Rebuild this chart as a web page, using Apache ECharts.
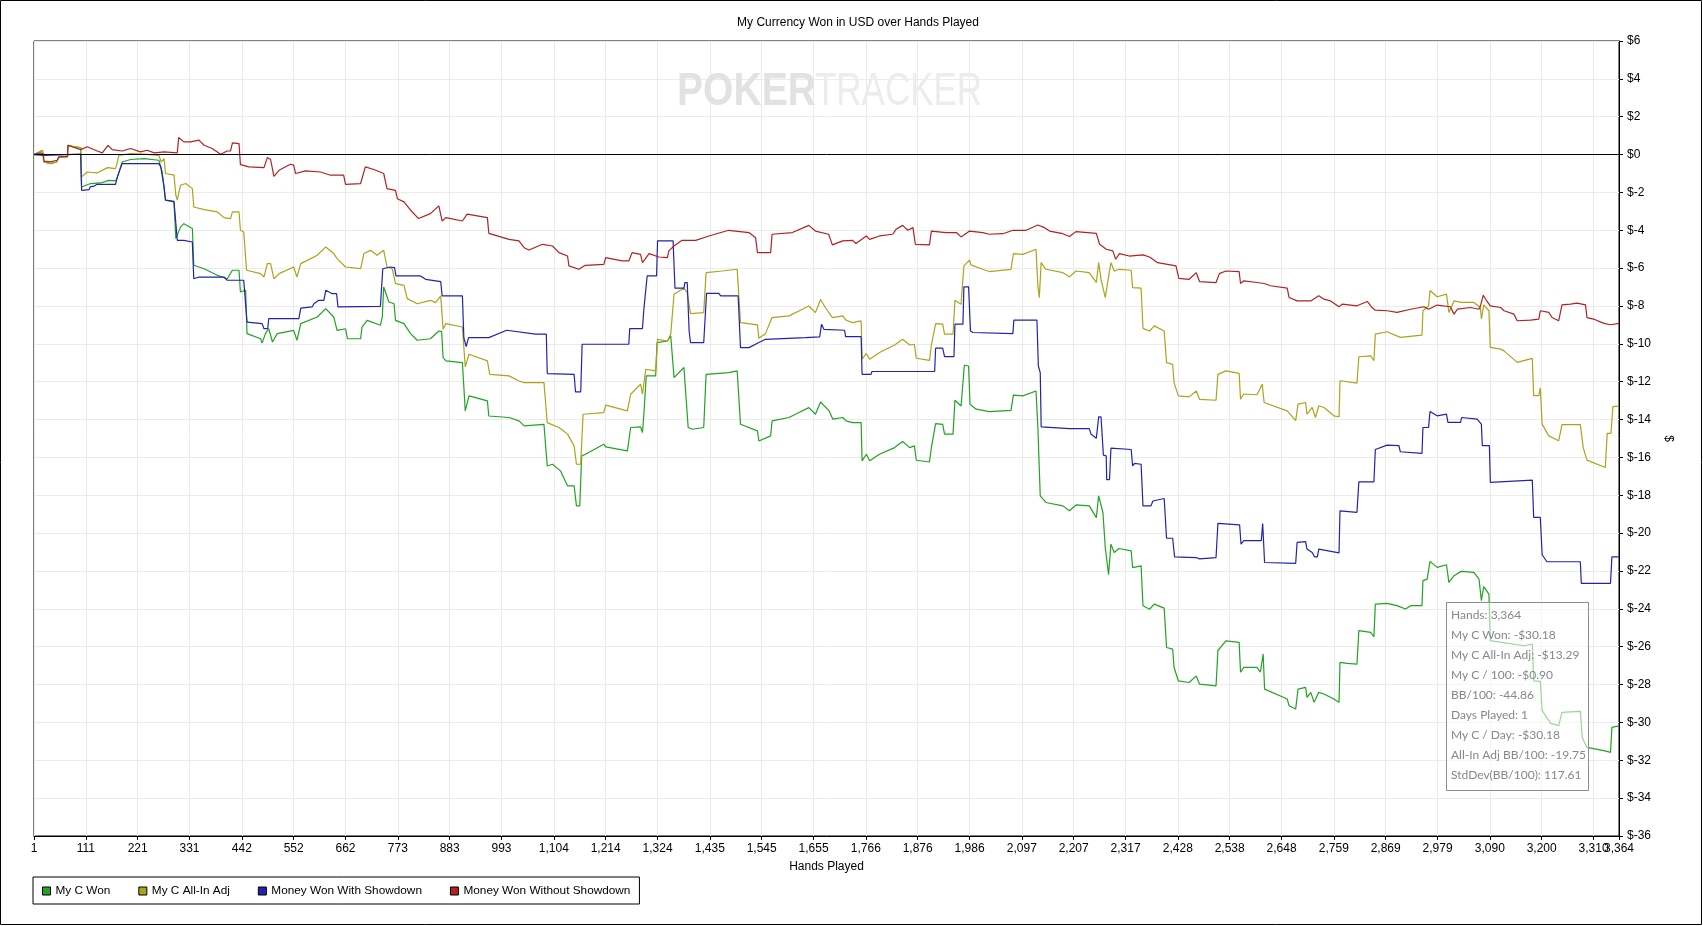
<!DOCTYPE html>
<html>
<head>
<meta charset="utf-8">
<title>My Currency Won in USD over Hands Played</title>
<script src="https://cdn.jsdelivr.net/npm/echarts@6/dist/echarts.min.js"></script>
<style>
  html, body { margin: 0; padding: 0; background: #fff; }
  #main { width: 1703px; height: 926px; }
</style>
</head>
<body>
<div id="main"></div>
<script>
// x axis tick positions (hands)
var handTicks = [1, 111, 221, 331, 442, 552, 662, 773, 883, 993, 1104, 1214, 1324, 1435, 1545, 1655,
  1766, 1876, 1986, 2097, 2207, 2317, 2428, 2538, 2648, 2759, 2869, 2979, 3090, 3200, 3310, 3364];
var lastHand = 3364;

// [hand, $]
var myCWon = [[1,0],[12,0.14],[19,0.23],[22,-0.39],[36,-0.48],[49,-0.39],[54,-0.12],[72,-0.12],[73,0.49],[86,0.41],[100,0.37],[102,-1.71],[121,-1.53],[142,-1.5],[160,-1.36],[174,-1.39],[178,-1.18],[188,-0.39],[206,-0.26],[234,-0.21],[266,-0.3],[273,-0.92],[280,-2.41],[298,-2.5],[302,-4.44],[312,-3.82],[319,-3.65],[337,-3.91],[340,-5.85],[362,-6.03],[390,-6.38],[411,-6.56],[422,-6.11],[436,-6.11],[439,-7.26],[450,-7.17],[453,-9.46],[482,-9.73],[485,-9.96],[492,-9.46],[499,-9.2],[507,-9.9],[517,-9.46],[552,-9.29],[559,-9.81],[567,-8.93],[602,-8.58],[620,-8.14],[637,-8.58],[644,-9.29],[662,-9.2],[666,-9.73],[694,-9.73],[697,-9.11],[708,-8.76],[736,-9.02],[740,-8.58],[743,-7.0],[754,-7.79],[765,-7.88],[768,-8.76],[786,-8.93],[800,-9.46],[814,-9.81],[842,-9.73],[860,-9.32],[866,-9.35],[869,-10.73],[875,-10.9],[910,-10.99],[916,-13.54],[924,-12.75],[963,-13.01],[966,-13.81],[1009,-13.89],[1030,-14.07],[1041,-14.33],[1083,-14.25],[1090,-16.45],[1101,-16.36],[1118,-16.71],[1133,-17.5],[1147,-17.5],[1152,-18.56],[1159,-18.56],[1163,-15.92],[1171,-15.83],[1210,-15.3],[1214,-15.44],[1260,-15.65],[1267,-14.42],[1288,-14.39],[1292,-14.69],[1295,-13.72],[1300,-11.69],[1320,-11.69],[1323,-9.93],[1345,-9.85],[1352,-9.58],[1359,-11.78],[1380,-11.25],[1384,-11.25],[1389,-14.42],[1398,-14.51],[1422,-14.42],[1427,-11.61],[1475,-11.52],[1493,-11.43],[1500,-14.25],[1536,-14.6],[1539,-15.13],[1564,-14.86],[1567,-14.07],[1603,-13.89],[1624,-13.63],[1645,-13.37],[1659,-13.72],[1670,-13.07],[1688,-13.54],[1696,-13.98],[1717,-13.89],[1724,-14.07],[1738,-14.16],[1756,-14.16],[1758,-16.18],[1767,-15.83],[1774,-16.18],[1795,-15.83],[1827,-15.48],[1844,-15.16],[1859,-15.48],[1869,-15.39],[1873,-16.15],[1901,-16.24],[1905,-15.48],[1914,-14.21],[1929,-14.25],[1933,-14.77],[1951,-14.77],[1955,-12.98],[1968,-13.28],[1975,-11.13],[1984,-11.17],[1987,-13.19],[2000,-13.45],[2028,-13.58],[2074,-13.51],[2079,-12.71],[2099,-12.75],[2127,-12.49],[2131,-14.42],[2136,-18.03],[2148,-18.38],[2184,-18.56],[2198,-18.82],[2212,-18.51],[2240,-18.56],[2255,-19.18],[2260,-18.03],[2269,-18.91],[2274,-20.76],[2281,-22.2],[2286,-20.58],[2293,-21.02],[2303,-20.81],[2329,-20.94],[2332,-21.82],[2350,-21.73],[2354,-23.84],[2368,-24.02],[2378,-23.75],[2399,-23.96],[2404,-26.04],[2417,-26.13],[2420,-27.1],[2429,-27.8],[2452,-27.89],[2467,-27.54],[2474,-27.98],[2509,-28.07],[2513,-26.2],[2530,-25.69],[2558,-25.77],[2561,-27.35],[2568,-27.09],[2596,-27.09],[2603,-27.35],[2609,-26.39],[2612,-28.24],[2653,-28.68],[2660,-28.76],[2664,-29.12],[2678,-29.29],[2683,-28.24],[2699,-28.15],[2702,-28.68],[2710,-28.41],[2717,-28.94],[2727,-28.41],[2738,-28.5],[2759,-28.76],[2770,-28.94],[2772,-26.83],[2787,-26.88],[2808,-26.92],[2812,-25.15],[2837,-25.24],[2844,-25.47],[2847,-23.75],[2872,-23.71],[2893,-23.83],[2911,-24.01],[2922,-23.83],[2946,-23.83],[2948,-22.51],[2957,-22.43],[2963,-21.49],[2978,-21.81],[2998,-21.67],[3003,-22.6],[3014,-22.25],[3029,-22.02],[3056,-22.07],[3067,-22.43],[3072,-23.57],[3077,-22.83],[3088,-23.22],[3091,-25.68],[3162,-25.95],[3180,-25.86],[3183,-27.8],[3197,-27.83],[3201,-29.38],[3219,-30.05],[3236,-30.17],[3243,-29.47],[3282,-29.42],[3286,-30.79],[3296,-31.32],[3332,-31.49],[3346,-31.58],[3349,-30.26],[3364,-30.18]];

var myCAllInAdj = [[1,0],[12,0.14],[19,0.23],[22,-0.39],[36,-0.48],[49,-0.39],[54,-0.12],[72,-0.12],[73,0.49],[86,0.41],[100,0.37],[102,-1.18],[114,-0.92],[135,-0.97],[157,-0.69],[174,-0.74],[178,-0.39],[181,-0.04],[206,0.05],[234,0.02],[266,-0.04],[271,-0.39],[277,-0.21],[280,-1.0],[298,-1.09],[302,-2.15],[305,-2.41],[312,-1.62],[323,-1.53],[337,-1.8],[340,-2.77],[362,-2.91],[390,-3.03],[404,-3.33],[418,-3.38],[422,-3.03],[436,-3.03],[439,-4.0],[446,-4.09],[452,-6.11],[482,-6.29],[489,-6.47],[496,-5.76],[503,-5.76],[510,-6.56],[521,-6.29],[552,-5.94],[559,-6.47],[567,-5.76],[581,-5.59],[602,-5.32],[620,-4.88],[637,-5.23],[644,-5.5],[662,-5.94],[694,-6.03],[701,-5.23],[715,-5.06],[729,-5.32],[743,-5.06],[750,-5.94],[761,-6.03],[768,-6.82],[786,-6.91],[793,-7.61],[814,-7.88],[842,-7.7],[853,-7.82],[864,-7.47],[869,-9.23],[875,-8.93],[910,-9.11],[916,-11.22],[924,-10.55],[963,-10.9],[968,-11.61],[1009,-11.69],[1030,-11.96],[1041,-12.05],[1083,-12.05],[1090,-14.16],[1115,-14.42],[1133,-14.77],[1147,-15.39],[1152,-16.36],[1161,-16.36],[1166,-13.72],[1210,-13.63],[1214,-13.24],[1260,-13.54],[1267,-12.66],[1288,-12.13],[1292,-12.66],[1299,-11.34],[1320,-11.43],[1324,-9.76],[1345,-9.85],[1352,-9.49],[1359,-7.38],[1380,-7.06],[1387,-7.29],[1394,-8.4],[1422,-8.35],[1427,-6.24],[1461,-6.15],[1493,-6.06],[1500,-8.88],[1536,-9.0],[1539,-9.7],[1553,-9.46],[1567,-8.61],[1603,-8.52],[1624,-8.26],[1645,-8.0],[1659,-8.35],[1670,-7.66],[1680,-8.08],[1695,-8.61],[1717,-8.52],[1724,-8.75],[1738,-8.88],[1756,-8.79],[1758,-10.81],[1767,-10.51],[1774,-10.81],[1795,-10.46],[1827,-10.06],[1844,-9.76],[1859,-10.06],[1869,-10.02],[1873,-10.76],[1901,-10.87],[1905,-10.06],[1914,-8.93],[1929,-8.96],[1933,-9.49],[1951,-9.49],[1955,-7.7],[1968,-7.91],[1974,-5.88],[1986,-5.58],[1989,-5.83],[2014,-6.06],[2028,-6.18],[2074,-6.06],[2079,-5.23],[2099,-5.27],[2127,-5.0],[2131,-6.94],[2134,-7.56],[2138,-5.71],[2148,-6.06],[2184,-6.24],[2198,-6.46],[2212,-6.15],[2240,-6.24],[2255,-6.76],[2260,-5.71],[2265,-6.59],[2274,-7.56],[2279,-6.76],[2286,-5.71],[2293,-6.15],[2303,-6.06],[2329,-6.11],[2332,-7.03],[2350,-7.06],[2354,-9.18],[2368,-9.32],[2378,-9.05],[2399,-9.32],[2404,-10.99],[2417,-11.08],[2420,-12.05],[2429,-12.75],[2452,-12.8],[2467,-12.49],[2474,-12.93],[2509,-12.98],[2513,-11.61],[2530,-11.43],[2558,-11.56],[2561,-12.92],[2568,-12.65],[2596,-12.69],[2607,-12.13],[2611,-13.1],[2660,-13.54],[2678,-14.06],[2683,-13.18],[2699,-13.1],[2702,-13.71],[2713,-13.36],[2720,-13.89],[2727,-13.27],[2738,-13.36],[2759,-13.8],[2770,-13.85],[2772,-11.95],[2808,-12.07],[2812,-10.68],[2837,-10.63],[2844,-10.89],[2847,-9.49],[2872,-9.36],[2900,-9.66],[2946,-9.54],[2948,-8.25],[2960,-7.99],[2963,-7.18],[2978,-7.51],[2998,-7.37],[3003,-8.34],[3014,-7.73],[3029,-7.81],[3056,-7.81],[3070,-8.08],[3072,-8.69],[3077,-7.94],[3088,-8.25],[3091,-10.19],[3113,-10.28],[3120,-10.37],[3148,-10.98],[3180,-10.77],[3183,-12.74],[3194,-12.74],[3197,-12.34],[3201,-14.24],[3215,-14.86],[3236,-15.12],[3243,-14.27],[3282,-14.27],[3288,-15.47],[3296,-16.14],[3335,-16.53],[3339,-14.73],[3347,-14.73],[3351,-13.32],[3364,-13.29]];

var wonWithShowdown = [[1,0],[22,-0.04],[100,0.02],[102,-1.89],[118,-1.85],[120,-1.71],[128,-1.67],[135,-1.57],[174,-1.57],[178,-1.18],[188,-0.48],[266,-0.48],[270,-0.65],[277,-1.71],[280,-2.41],[298,-2.47],[305,-4.53],[319,-4.53],[337,-4.62],[340,-6.56],[351,-6.47],[404,-6.47],[411,-6.64],[446,-6.64],[453,-8.85],[485,-8.93],[489,-9.2],[497,-9.2],[499,-8.67],[563,-8.67],[567,-8.11],[591,-8.05],[595,-7.88],[605,-7.7],[616,-7.7],[620,-7.17],[634,-7.35],[643,-7.35],[646,-8.05],[736,-8.02],[741,-6.03],[757,-5.94],[766,-5.97],[769,-6.41],[821,-6.41],[832,-6.59],[864,-6.71],[867,-7.47],[910,-7.47],[913,-9.67],[918,-10.14],[923,-9.67],[966,-9.67],[1004,-9.28],[1065,-9.49],[1088,-9.49],[1090,-11.57],[1147,-11.61],[1150,-12.54],[1161,-12.54],[1164,-10.02],[1263,-10.02],[1265,-9.19],[1292,-9.19],[1295,-8.17],[1302,-6.41],[1322,-6.41],[1324,-4.56],[1357,-4.56],[1361,-7.06],[1380,-7.06],[1382,-6.76],[1387,-6.76],[1391,-9.32],[1394,-9.93],[1422,-9.93],[1428,-7.33],[1454,-7.33],[1458,-7.47],[1495,-7.47],[1500,-10.2],[1518,-10.2],[1539,-9.93],[1553,-9.76],[1638,-9.67],[1668,-9.63],[1672,-8.96],[1677,-9.23],[1721,-9.28],[1723,-9.62],[1756,-9.62],[1758,-11.61],[1777,-11.61],[1779,-11.46],[1912,-11.46],[1914,-10.23],[1929,-10.23],[1933,-10.67],[1953,-10.67],[1955,-8.96],[1972,-8.96],[1974,-6.99],[1984,-6.99],[1988,-9.32],[1993,-9.4],[2078,-9.46],[2080,-8.75],[2129,-8.75],[2132,-11.17],[2136,-11.52],[2138,-14.39],[2198,-14.48],[2240,-14.48],[2244,-14.78],[2255,-14.99],[2258,-14.99],[2260,-13.86],[2265,-13.86],[2270,-15.88],[2276,-15.92],[2277,-17.17],[2283,-17.17],[2286,-15.51],[2329,-15.58],[2332,-16.45],[2336,-16.31],[2350,-16.36],[2354,-18.56],[2371,-18.56],[2375,-18.3],[2399,-18.17],[2404,-20.27],[2417,-20.27],[2421,-21.25],[2467,-21.29],[2474,-21.36],[2509,-21.29],[2513,-19.48],[2559,-19.56],[2562,-20.58],[2568,-20.4],[2605,-20.4],[2608,-19.49],[2612,-21.55],[2678,-21.6],[2681,-20.49],[2699,-20.45],[2702,-20.84],[2713,-21.02],[2718,-21.25],[2724,-21.25],[2727,-20.84],[2770,-21.04],[2772,-18.82],[2808,-18.9],[2812,-17.29],[2844,-17.29],[2847,-15.58],[2872,-15.35],[2897,-15.38],[2900,-15.7],[2946,-15.79],[2948,-14.42],[2960,-14.42],[2963,-13.57],[2978,-13.8],[2998,-13.71],[3001,-14.15],[3028,-14.15],[3030,-13.89],[3063,-13.98],[3072,-14.24],[3074,-15.38],[3089,-15.38],[3091,-17.32],[3180,-17.2],[3183,-19.17],[3197,-19.17],[3201,-21.14],[3211,-21.51],[3282,-21.51],[3284,-22.65],[3346,-22.65],[3349,-21.25],[3364,-21.25]];

var wonWithoutShowdown = [[1,0],[15,0.09],[21,0.02],[22,-0.35],[36,-0.39],[50,-0.3],[54,-0.12],[72,-0.1],[73,0.49],[100,0.26],[114,0.41],[135,0.19],[146,0.09],[158,0.49],[167,0.26],[188,0.19],[206,0.32],[227,0.14],[241,0.23],[256,0.09],[277,0.14],[305,0.09],[308,0.9],[319,0.67],[333,0.67],[351,0.76],[362,0.49],[379,0.32],[397,0.02],[411,0.19],[418,0.19],[422,0.62],[436,0.58],[439,-0.53],[457,-0.65],[489,-0.69],[496,-0.16],[503,-0.26],[510,-1.15],[521,-0.83],[545,-0.51],[552,-0.56],[556,-1.0],[577,-0.86],[609,-0.92],[630,-1.09],[658,-1.09],[662,-1.57],[694,-1.53],[704,-0.65],[722,-0.79],[743,-1.0],[750,-1.8],[768,-1.89],[772,-2.33],[786,-2.5],[800,-2.94],[817,-3.38],[842,-3.12],[860,-2.71],[864,-2.66],[867,-3.51],[875,-3.33],[910,-3.51],[920,-3.15],[963,-3.33],[966,-4.16],[1009,-4.48],[1030,-4.56],[1041,-4.92],[1051,-5.04],[1080,-4.74],[1101,-4.83],[1115,-5.18],[1133,-5.36],[1136,-5.88],[1157,-6.06],[1171,-5.85],[1210,-5.8],[1214,-5.44],[1249,-5.62],[1263,-5.62],[1270,-5.18],[1288,-5.27],[1292,-5.71],[1306,-5.23],[1327,-5.41],[1345,-5.44],[1348,-5.09],[1359,-4.83],[1376,-4.53],[1405,-4.53],[1433,-4.3],[1475,-4.0],[1518,-4.12],[1532,-4.39],[1536,-5.18],[1564,-5.18],[1567,-4.21],[1610,-4.12],[1645,-3.74],[1659,-4.04],[1687,-4.21],[1695,-4.77],[1717,-4.56],[1738,-4.53],[1745,-4.7],[1767,-4.3],[1774,-4.48],[1795,-4.3],[1823,-4.21],[1830,-3.95],[1844,-3.74],[1855,-4.0],[1866,-3.86],[1871,-4.74],[1901,-4.77],[1905,-4.04],[1936,-4.12],[1958,-4.12],[1968,-4.35],[1986,-4.04],[2014,-4.12],[2028,-4.21],[2057,-4.18],[2078,-4.0],[2106,-4.0],[2131,-3.72],[2145,-3.86],[2156,-4.04],[2184,-4.18],[2198,-4.33],[2212,-4.07],[2255,-4.16],[2262,-4.74],[2276,-5.0],[2290,-5.09],[2296,-5.53],[2304,-5.23],[2325,-5.36],[2354,-5.3],[2368,-5.41],[2385,-5.71],[2424,-5.88],[2430,-6.54],[2452,-6.59],[2467,-6.24],[2474,-6.71],[2509,-6.76],[2516,-6.29],[2530,-6.15],[2558,-6.18],[2561,-6.81],[2568,-6.67],[2596,-6.76],[2611,-6.81],[2625,-6.93],[2660,-7.06],[2664,-7.55],[2681,-7.73],[2710,-7.73],[2727,-7.46],[2738,-7.64],[2752,-7.73],[2770,-8.04],[2777,-7.9],[2808,-7.99],[2830,-7.76],[2840,-8.08],[2847,-8.22],[2872,-8.25],[2893,-8.34],[2922,-8.17],[2950,-8.04],[2960,-8.17],[2978,-7.95],[3006,-8.04],[3014,-8.43],[3021,-8.17],[3049,-8.08],[3067,-8.17],[3070,-7.99],[3076,-7.43],[3084,-7.76],[3091,-7.99],[3113,-8.08],[3120,-8.25],[3141,-8.43],[3148,-8.78],[3176,-8.75],[3194,-8.69],[3197,-8.25],[3215,-8.34],[3222,-8.61],[3236,-8.78],[3243,-7.94],[3261,-7.9],[3275,-7.85],[3293,-7.94],[3296,-8.61],[3310,-8.69],[3332,-8.92],[3346,-8.99],[3364,-8.92]];

var seriesNames = ['My C Won', 'My C All-In Adj', 'Money Won With Showdown', 'Money Won Without Showdown'];

// summary box shown at the last hand
var tipLines = ['Hands: 3,364', 'My C Won: -$30.18', 'My C All-In Adj: -$13.29', 'My C / 100: -$0.90',
  'BB/100: -44.86', 'Days Played: 1', 'My C / Day: -$30.18', 'All-In Adj BB/100: -19.75', 'StdDev(BB/100): 117.61'];

var seriesColors = ['#22a322', '#aba41c', '#2222b0', '#b32121'];
var seriesData = [myCWon, myCAllInAdj, wonWithShowdown, wonWithoutShowdown];
var font = "'Liberation Sans', Arial, sans-serif";

function withCommas(v) {
  return String(Math.round(v)).replace(/\B(?=(\d{3})+(?!\d))/g, ',');
}

var myChart = echarts.init(document.getElementById('main'));

var series = seriesNames.map(function (name, i) {
  return {
    name: name,
    type: 'line',
    xAxisIndex: 0,
    data: seriesData[i],
    symbol: 'none',
    showSymbol: false,
    animation: false,
    color: seriesColors[i],
    lineStyle: { width: 1.2, color: seriesColors[i] }
  };
});
// zero line
series[0].markLine = {
  silent: true,
  symbol: 'none',
  animation: false,
  label: { show: false },
  lineStyle: { color: '#000', width: 1, type: 'solid' },
  data: [{ yAxis: 0 }]
};

var graphics = [
  { type: 'rect', silent: true, z: 0, shape: { x: 0.5, y: 0.5, width: 1701, height: 924 },
    style: { fill: 'none', stroke: '#000', lineWidth: 1 } },
  { type: 'text', silent: true, z: 0, x: 858, y: 23,
    style: { text: 'My Currency Won in USD over Hands Played', font: '12px ' + font, fill: '#000',
      textAlign: 'center', textVerticalAlign: 'middle' } },
  // watermark
  { type: 'text', silent: true, z: 1, x: 677, y: 92, scaleX: 0.85,
    style: { text: 'POKER', font: 'bold 46px ' + font, fill: '#e2e2e2', textAlign: 'left', textVerticalAlign: 'middle' } },
  { type: 'text', silent: true, z: 1, x: 815, y: 92, scaleX: 0.76,
    style: { text: 'TRACKER', font: '46px ' + font, fill: '#ececec', textAlign: 'left', textVerticalAlign: 'middle' } },
  // summary box
  { type: 'rect', silent: true, z: 100, shape: { x: 1446.5, y: 602.5, width: 142, height: 188 },
    style: { fill: 'rgba(255,255,255,0.55)', stroke: '#8c8c8c', lineWidth: 1 } }
];
tipLines.forEach(function (t, i) {
  graphics.push({ type: 'text', silent: true, z: 101, x: 1451, y: 615 + i * 20,
    style: { text: t, font: '12px Lato, ' + font, fill: '#86868f', textAlign: 'left', textVerticalAlign: 'middle' } });
});

var labelStyle = { color: '#000', fontSize: 12, fontFamily: font };

myChart.setOption({
  animation: false,
  backgroundColor: '#fff',
  grid: {
    left: 34, right: 84, top: 41, bottom: 90,
    show: true, borderColor: '#000', borderWidth: 1
  },
  legend: {
    data: seriesNames,
    left: 33, top: 877,
    icon: 'rect',
    itemWidth: 8, itemHeight: 8, itemGap: 28,
    padding: [8, 9, 7, 9],
    borderColor: '#000', borderWidth: 1,
    itemStyle: { borderColor: '#000', borderWidth: 1 },
    textStyle: { fontSize: 11.8, color: '#000', fontFamily: font }
  },
  xAxis: [{
    type: 'value',
    position: 'bottom',
    min: 1, max: lastHand,
    name: 'Hands Played',
    nameLocation: 'middle',
    nameGap: 25,
    nameTextStyle: labelStyle,
    axisLine: { show: true, onZero: false, lineStyle: { color: '#000' } },
    axisTick: { show: true, length: 4, customValues: handTicks, lineStyle: { color: '#000' } },
    axisLabel: Object.assign({ customValues: handTicks.slice(0, -1), formatter: withCommas, margin: 7,
      showMinLabel: true, showMaxLabel: true }, labelStyle),
    splitLine: { show: true, lineStyle: { color: '#ebebeb', width: 1 } }
  }, {
    // carries only the last-hand label, which overlaps 3,310 as in the original
    type: 'value',
    position: 'bottom',
    min: 1, max: lastHand,
    axisLine: { show: false, onZero: false },
    axisTick: { show: false },
    splitLine: { show: false },
    axisLabel: Object.assign({ customValues: [lastHand], formatter: withCommas, margin: 7,
      showMinLabel: true, showMaxLabel: true }, labelStyle)
  }],
  yAxis: {
    type: 'value',
    position: 'right',
    min: -36, max: 6, interval: 2,
    name: '$',
    nameLocation: 'middle',
    nameGap: 37,
    nameRotate: -90,
    nameTextStyle: labelStyle,
    axisLine: { show: true, onZero: false, lineStyle: { color: '#000' } },
    axisTick: { show: true, length: 4, lineStyle: { color: '#000' } },
    axisLabel: Object.assign({ formatter: function (v) { return '$' + v; }, margin: 8 }, labelStyle),
    splitLine: { show: true, lineStyle: { color: '#ebebeb', width: 1 } }
  },
  series: series,
  graphic: { elements: graphics }
});
</script>
</body>
</html>
